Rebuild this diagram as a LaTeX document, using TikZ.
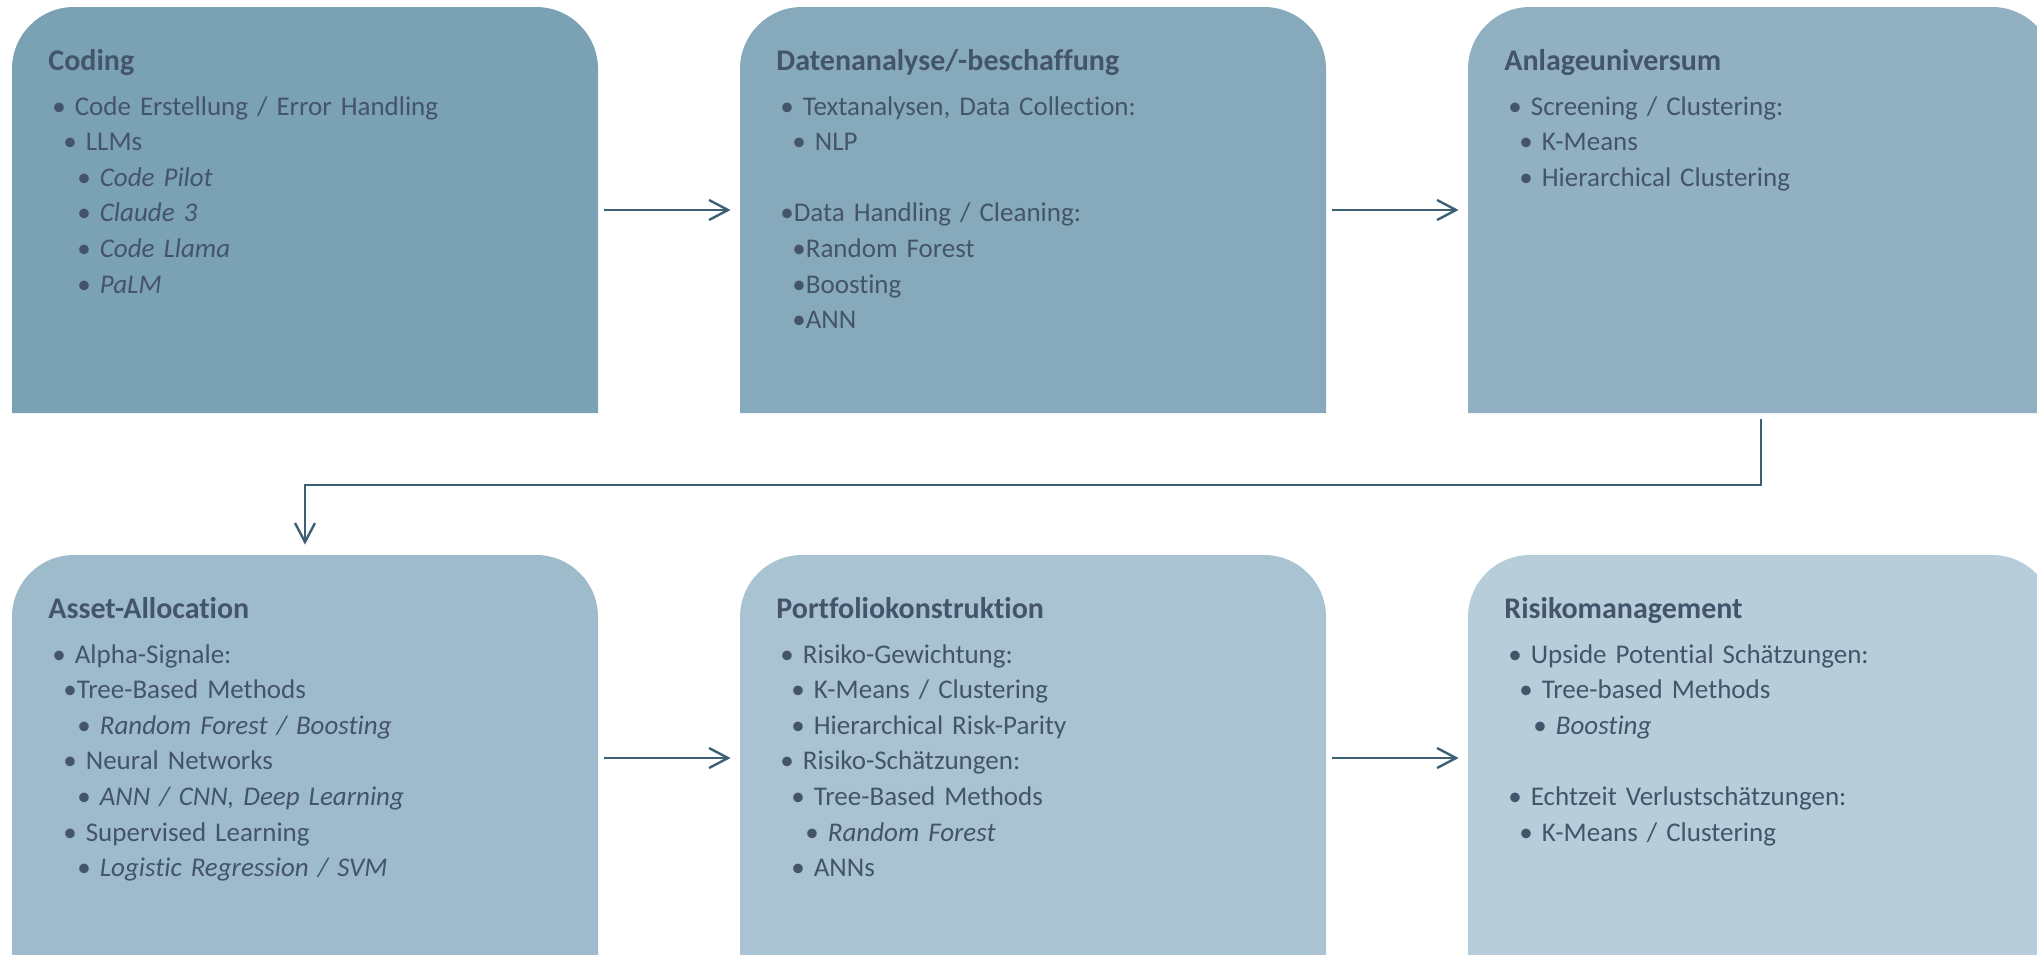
\documentclass[tikz,border=0pt]{standalone}
\usepackage{fontspec}
\setmainfont{Carlito}[Ligatures=NoCommon]
\usepackage{tikz}
\usetikzlibrary{arrows.meta, positioning}

\definecolor{kastenA}{RGB}{122,161,180}
\definecolor{kastenB}{RGB}{134,169,188}
\definecolor{kastenC}{RGB}{145,177,195}
\definecolor{kastenD}{RGB}{158,187,204}
\definecolor{kastenE}{RGB}{170,195,211}
\definecolor{kastenF}{RGB}{183,205,218}
\definecolor{textfarbe}{RGB}{68,84,106}
\definecolor{pfeilfarbe}{RGB}{61,96,117}

\begin{document}
\begin{tikzpicture}[x=0.5pt,y=0.5pt,yscale=-1,xscale=1,
  kasten/.style={minimum width=293pt, minimum height=203pt, inner sep=0pt,
    path picture={\fill[#1] (path picture bounding box.south west) [rounded corners=31pt] -- (path picture bounding box.north west) -- (path picture bounding box.north east) [sharp corners] -- (path picture bounding box.south east) -- cycle;}},
  titel/.style={anchor=base west, inner sep=0pt, text=textfarbe, font=\fontsize{15pt}{18pt}\selectfont\bfseries},
  liste/.style={anchor=base west, inner sep=0pt, text=textfarbe, text width=280pt, align=left, font=\fontsize{13.5pt}{17.8pt}\selectfont},
  pfeil/.style={draw=pfeilfarbe, line width=1.2pt, -{Straight Barb[length=9.5pt,width=10pt,line width=1.2pt]}}]
\useasboundingbox (0,0) rectangle (2037,954);
\fill[white] (0,0) rectangle (2037,954);
\clip (0,0) rectangle (2037,954);

%Shape: Boxes
\node[kasten=kastenA] (cod) at (305,210) {};
\node[kasten=kastenB] (dat) at (1033,210) {};
\node[kasten=kastenC] (anl) at (1761,210) {};
\node[kasten=kastenD] (asset) at (305,758) {};
\node[kasten=kastenE] (port) at (1033,758) {};
\node[kasten=kastenF] (risk) at (1761,758) {};

%Straight Lines
\draw[pfeil, shorten <=3pt, shorten >=4.5pt] (cod.east) -- (dat.west);
\draw[pfeil, shorten <=3pt, shorten >=4.5pt] (dat.east) -- (anl.west);
\draw[pfeil, shorten <=3pt, shorten >=4.5pt] (asset.east) -- (port.west);
\draw[pfeil, shorten <=3pt, shorten >=4.5pt] (port.east) -- (risk.west);
%Elbow
\coordinate (knick) at (1000,485);
\draw[pfeil, shorten <=3pt, shorten >=5pt] (anl.south) -- (anl.south |- knick) -| (asset.north);

% Text Node
\node[titel] (codT) at (48,70) {Coding};
\node[liste] (codL) at (52,115) {%
•~Code Erstellung / Error Handling\\
\hspace*{5.5pt}•~LLMs\\
\hspace*{12.5pt}•~\textit{Code Pilot}\\
\hspace*{12.5pt}•~\textit{Claude 3}\\
\hspace*{12.5pt}•~\textit{Code Llama}\\
\hspace*{12.5pt}•~\textit{PaLM}};
% Text Node
\node[titel] (datT) at (776,70) {Datenanalyse/-beschaffung};
\node[liste] (datL) at (780,115) {%
•~Textanalysen, Data Collection:\\
\hspace*{6pt}•~NLP\\
\mbox{}\\
•Data Handling / Cleaning:\\
\hspace*{6pt}•Random Forest\\
\hspace*{6pt}•Boosting\\
\hspace*{6pt}•ANN};
% Text Node
\node[titel] (anlT) at (1504,70) {Anlageuniversum};
\node[liste] (anlL) at (1508,115) {%
•~Screening / Clustering:\\
\hspace*{5.5pt}•~K-Means\\
\hspace*{5.5pt}•~Hierarchical Clustering};
% Text Node
\node[titel] (assetT) at (48,618) {Asset-Allocation};
\node[liste] (assetL) at (52,663) {%
•~Alpha-Signale:\\
\hspace*{5.5pt}•Tree-Based Methods\\
\hspace*{12.5pt}•~\textit{Random Forest / Boosting}\\
\hspace*{5.5pt}•~Neural Networks\\
\hspace*{12.5pt}•~\textit{ANN / CNN, Deep Learning}\\
\hspace*{5.5pt}•~Supervised Learning\\
\hspace*{12.5pt}•~\textit{Logistic Regression / SVM}};
% Text Node
\node[titel] (portT) at (776,618) {Portfoliokonstruktion};
\node[liste] (portL) at (780,663) {%
•~Risiko-Gewichtung:\\
\hspace*{5.5pt}•~K-Means / Clustering\\
\hspace*{5.5pt}•~Hierarchical Risk-Parity\\
•~Risiko-Schätzungen:\\
\hspace*{5.5pt}•~Tree-Based Methods\\
\hspace*{12.5pt}•~\textit{Random Forest}\\
\hspace*{5.5pt}•~ANNs};
% Text Node
\node[titel] (riskT) at (1504,618) {Risikomanagement};
\node[liste] (riskL) at (1508,663) {%
•~Upside Potential Schätzungen:\\
\hspace*{5.5pt}•~Tree-based Methods\\
\hspace*{12.5pt}•~\textit{Boosting}\\
\mbox{}\\
•~Echtzeit Verlustschätzungen:\\
\hspace*{5.5pt}•~K-Means / Clustering};

\end{tikzpicture}
\end{document}
